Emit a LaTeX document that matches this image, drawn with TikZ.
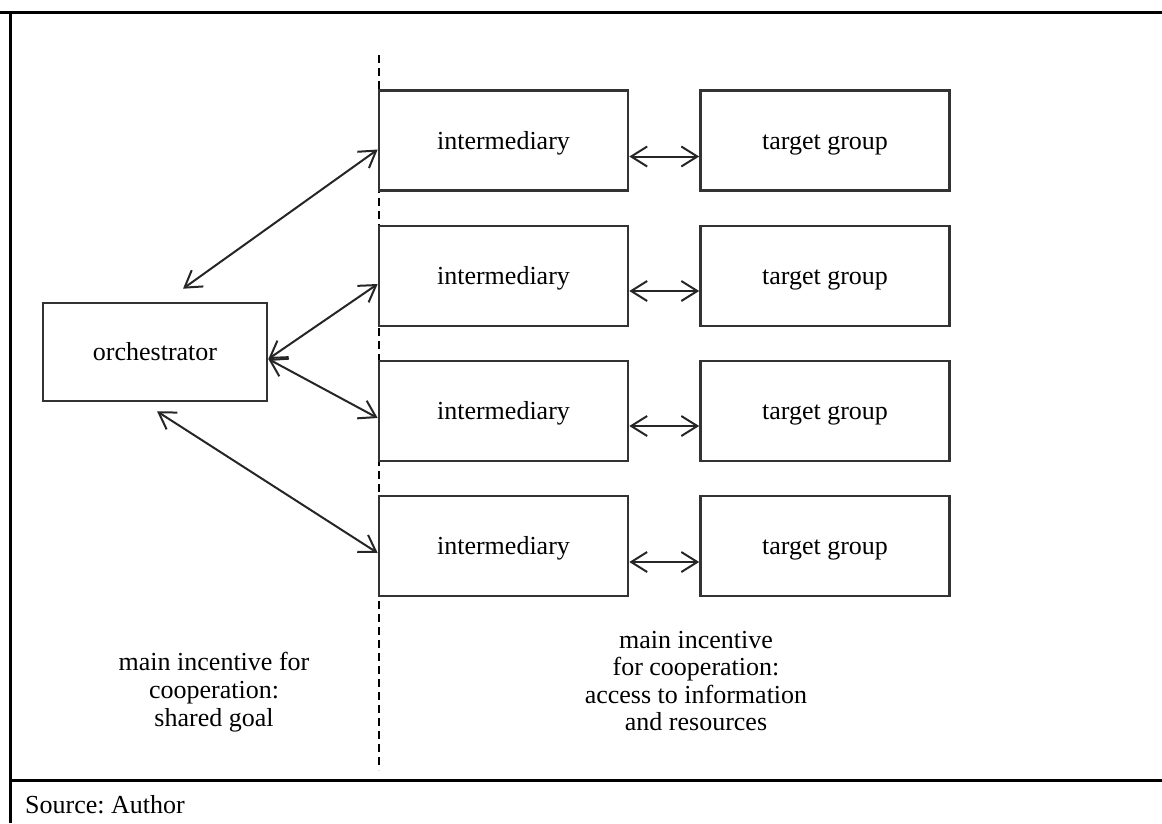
\documentclass[tikz,border=0pt]{standalone}
\usepackage{fontspec}
\setmainfont{Liberation Serif}
\usetikzlibrary{arrows.meta}
\frenchspacing
\tikzset{box/.style={rectangle, draw=black!80, line width=2.6pt, minimum width=249pt, minimum height=100pt, text centered, inner sep=0pt, text height=20pt, text depth=3pt},
 link/.style={{Straight Barb[length=16pt,width=20pt]}-{Straight Barb[length=16pt,width=20pt]}, line width=2pt, draw=black!85},
 frame/.style={line width=3pt},
 divider/.style={dash pattern=on 8pt off 5pt, line width=1.6pt}}

\begin{document}
\begin{tikzpicture}[x=1pt,y=-1pt,font=\fontsize{26}{27.5}\selectfont]
\useasboundingbox (0,0) rectangle (1162,823);

% frame round the figure
\draw[frame] (0,12) -- (1162,12);
\draw[frame] (10,12) -- (10,823);
\draw[frame] (10,780) -- (1162,780);

\draw[divider] (379,55) -- (379,770);

\node[box, minimum width=224pt, minimum height=98pt] (orch) at (155,352) {orchestrator};

\node[box] (i1) at (503.5,140.5) {intermediary};
\node[box] (i2) at (503.5,276) {intermediary};
\node[box] (i3) at (503.5,411) {intermediary};
\node[box] (i4) at (503.5,546) {intermediary};

\node[box] (t1) at (825,140.5) {target group};
\node[box] (t2) at (825,276) {target group};
\node[box] (t3) at (825,411) {target group};
\node[box] (t4) at (825,546) {target group};

% intermediary <-> target group
\draw[link] ([yshift=-16pt]i1.east) -- ([yshift=-16pt]t1.west);
\draw[link] ([yshift=-15pt]i2.east) -- ([yshift=-15pt]t2.west);
\draw[link] ([yshift=-15pt]i3.east) -- ([yshift=-15pt]t3.west);
\draw[link] ([yshift=-16pt]i4.east) -- ([yshift=-16pt]t4.west);

% orchestrator <-> intermediary
\draw[link] ([xshift=28pt,yshift=13pt]orch.north) -- ([yshift=-9pt]i1.west);
\draw[link] ([yshift=-7pt]orch.east) -- ([yshift=-8pt]i2.west);
\draw[link] ([yshift=-7pt]orch.east) -- ([yshift=-7pt]i3.west);
\draw[link] ([xshift=2pt,yshift=-9pt]orch.south) -- ([yshift=-7pt]i4.west);

\node[align=center, font=\fontsize{26}{28}\selectfont] (goal) at (214,692) {main incentive for\\cooperation:\\shared goal};
\node[align=center] (access) at (696,681) {main incentive\\for cooperation:\\access to information\\and resources};

\node[anchor=west, inner sep=0pt] (src) at (25,805) {Source: Author};
\end{tikzpicture}
\end{document}
